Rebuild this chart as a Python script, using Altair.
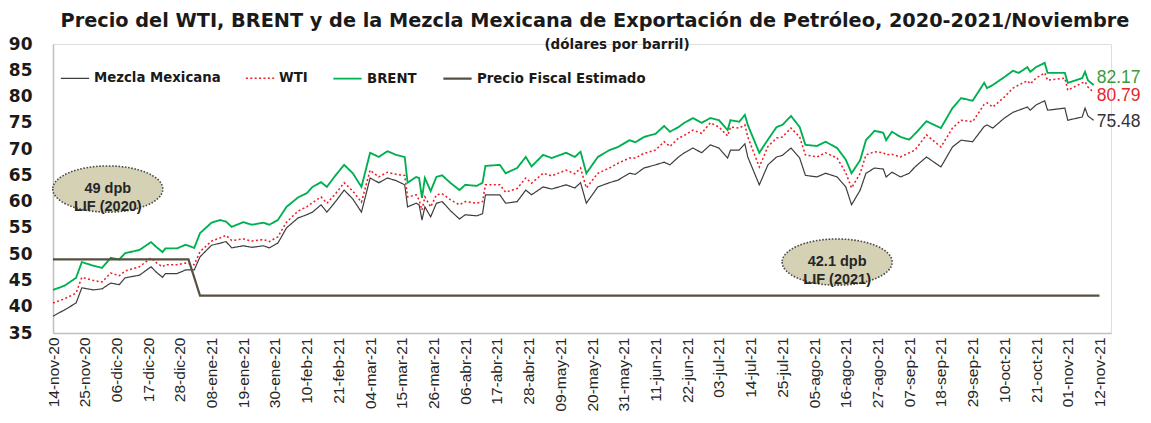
import json
import pandas as pd
import altair as alt

# Etiquetas del eje X (cada 11 días desde el 14-nov-20)
etiquetas = ["14-nov-20", "25-nov-20", "06-dic-20", "17-dic-20", "28-dic-20", "08-ene-21",
             "19-ene-21", "30-ene-21", "10-feb-21", "21-feb-21", "04-mar-21", "15-mar-21",
             "26-mar-21", "06-abr-21", "17-abr-21", "28-abr-21", "09-may-21", "20-may-21",
             "31-may-21", "11-jun-21", "22-jun-21", "03-jul-21", "14-jul-21", "25-jul-21",
             "05-ago-21", "16-ago-21", "27-ago-21", "07-sep-21", "18-sep-21", "29-sep-21",
             "10-oct-21", "21-oct-21", "01-nov-21", "12-nov-21"]

# Días transcurridos desde el 14-nov-2020
dias = [0, 4, 8, 10, 14, 17, 20, 23, 25, 30, 34, 36, 38, 39, 43, 46, 49, 51, 55, 58,
        60, 62, 66, 69, 73, 75, 78, 81, 85, 88, 90, 93, 95, 98, 101, 104, 107, 110, 113, 116,
        119, 122, 123, 126, 127, 128, 129, 131, 133, 135, 138, 141, 143, 147, 149, 150, 155, 157, 161, 164,
        166, 170, 173, 178, 181, 183, 185, 189, 193, 196, 200, 202, 205, 209, 212, 214, 217, 219, 222, 225,
        228, 231, 234, 235, 238, 240, 241, 245, 248, 251, 253, 256, 259, 261, 265, 268, 272, 275, 277, 280,
        282, 285, 288, 289, 291, 294, 297, 299, 303, 308, 312, 315, 319, 323, 324, 326, 330, 333, 335, 338,
        339, 341, 344, 345, 351, 352, 357, 358, 359, 361]

brent = [43.2, 44.0, 45.5, 48.5, 47.8, 47.4, 49.3, 49.0, 50.2, 50.8, 52.3, 51.3, 50.4, 51.1, 51.1, 51.8, 51.2, 54.0, 56.0, 56.5,
         56.2, 55.2, 56.1, 55.6, 56.0, 55.6, 56.5, 59.0, 60.8, 61.6, 62.8, 63.7, 62.8, 65.0, 67.0, 65.4, 62.8, 69.3, 68.5, 69.6,
         68.9, 68.5, 63.6, 64.7, 64.5, 60.7, 64.5, 62.0, 64.7, 65.0, 63.5, 62.2, 63.2, 63.0, 63.6, 66.8, 67.0, 65.4, 66.4, 68.5,
         66.7, 68.9, 68.3, 69.3, 68.5, 69.5, 65.4, 68.5, 69.8, 70.4, 71.7, 71.3, 72.3, 72.9, 74.4, 73.3, 74.2, 75.0, 75.9, 75.0,
         75.9, 75.5, 73.6, 75.5, 75.2, 76.5, 74.6, 69.3, 71.8, 74.2, 74.6, 76.3, 74.2, 70.8, 70.6, 71.4, 70.2, 68.0, 65.4, 67.9,
         71.7, 73.5, 73.1, 71.7, 73.3, 72.3, 71.8, 72.9, 75.3, 74.0, 77.8, 79.7, 79.2, 82.6, 81.6, 82.2, 83.7, 84.9, 84.5, 85.6,
         84.7, 85.6, 86.4, 84.5, 84.5, 82.6, 83.5, 84.7, 83.1, 82.17]

wti = [40.7, 41.5, 42.6, 45.6, 45.0, 44.7, 46.4, 45.9, 46.8, 47.6, 49.3, 48.3, 47.6, 48.0, 48.0, 48.3, 48.0, 50.5, 52.5, 53.1,
       53.6, 52.6, 52.9, 52.5, 52.8, 52.4, 53.3, 56.1, 58.2, 59.0, 59.8, 60.9, 59.7, 61.5, 63.6, 62.0, 59.9, 66.0, 64.7, 65.6,
       65.2, 65.0, 60.9, 61.3, 60.3, 58.4, 60.9, 59.0, 61.3, 61.5, 60.3, 59.4, 60.0, 59.7, 60.0, 63.2, 63.2, 61.8, 62.5, 64.5,
       63.5, 65.4, 64.9, 66.0, 65.3, 66.4, 62.6, 65.4, 66.4, 67.3, 68.3, 68.3, 69.2, 69.8, 71.4, 70.5, 72.1, 72.6, 73.6, 73.0,
       75.0, 74.2, 72.5, 74.2, 74.0, 74.6, 72.3, 66.6, 70.5, 72.1, 72.3, 74.0, 72.3, 68.9, 68.5, 69.3, 68.3, 65.5, 62.6, 65.4,
       68.9, 69.5, 69.3, 68.9, 69.0, 68.5, 69.3, 69.8, 72.7, 70.4, 74.0, 75.5, 75.2, 78.5, 78.8, 78.0, 79.9, 81.6, 82.2, 83.0,
       82.4, 83.5, 84.5, 83.1, 83.5, 81.2, 82.6, 82.8, 81.8, 80.79]

mezcla = [38.2, 39.4, 40.7, 43.6, 43.2, 43.4, 44.5, 44.2, 45.5, 46.0, 47.6, 46.5, 45.6, 46.3, 46.3, 47.0, 47.0, 49.5, 51.7, 52.1,
          52.4, 51.2, 51.6, 51.3, 51.6, 51.2, 52.1, 55.0, 56.9, 57.5, 58.0, 59.4, 58.0, 60.0, 62.2, 60.5, 58.0, 64.5, 63.6, 64.5,
          64.0, 63.2, 59.0, 59.7, 59.4, 56.5, 59.0, 57.1, 59.7, 60.0, 58.2, 56.7, 57.5, 57.3, 57.7, 61.3, 61.3, 59.7, 60.0, 62.2,
          61.3, 62.8, 62.4, 63.2, 62.6, 63.6, 59.7, 62.8, 63.6, 64.1, 65.4, 65.2, 66.4, 67.0, 67.5, 67.0, 68.5, 69.3, 70.2, 69.3,
          70.8, 70.2, 68.3, 69.8, 69.8, 71.0, 68.5, 63.2, 67.0, 68.5, 68.8, 70.2, 68.3, 65.0, 64.7, 65.4, 64.7, 62.8, 59.4, 62.2,
          65.4, 66.4, 66.2, 64.7, 65.6, 64.7, 65.4, 66.6, 68.5, 66.6, 70.4, 71.7, 71.4, 74.3, 74.6, 74.0, 75.9, 77.0, 77.4, 78.0,
          77.4, 78.4, 79.2, 77.4, 77.8, 75.5, 76.1, 77.8, 76.3, 75.48]

# Precio fiscal estimado (LIF 2020 y LIF 2021)
fiscal_dias = [0, 47, 51, 363]
fiscal_valores = [49.0, 49.0, 42.1, 42.1]

series = ["Mezcla Mexicana", "WTI", "BRENT", "Precio Fiscal Estimado"]
colores = ["#3d3d3d", "#ee1c25", "#00b050", "#565040"]
grosores = [1.2, 2.2, 3.4, 2.6]
trazos = [[1, 0], [2, 2.4], [1, 0], [1, 0]]

# Anotaciones (elipses)
anot_dias = [19, 272]
anot_valores = [62.4, 48.5]
anot_textos = ["49 dpb\nLIF (2020)", "42.1 dpb\nLIF (2021)"]

titulo = "Precio del WTI, BRENT y de la Mezcla Mexicana de Exportación de Petróleo, 2020-2021/Noviembre"
subtitulo = "(dólares por barril)"

# ----- tablas -----
filas = []
for nombre, vals in [("Mezcla Mexicana", mezcla), ("WTI", wti), ("BRENT", brent)]:
    for d, v in zip(dias, vals):
        filas.append({"dia": d, "valor": v, "serie": nombre})
for d, v in zip(fiscal_dias, fiscal_valores):
    filas.append({"dia": d, "valor": v, "serie": "Precio Fiscal Estimado"})
df = pd.DataFrame(filas)

finales = pd.DataFrame({
    "dia": [dias[-1]] * 3,
    "valor": [brent[-1], wti[-1], mezcla[-1]],
    "texto": [f"{brent[-1]:.2f}", f"{wti[-1]:.2f}", f"{mezcla[-1]:.2f}"],
})
anot = pd.DataFrame({"dia": anot_dias, "valor": anot_valores, "texto": anot_textos})

tick_vals = [11 * i for i in range(len(etiquetas))]
label_expr = json.dumps(etiquetas) + "[round(datum.value / 11)]"

xscale = alt.Scale(domain=[0, 367], nice=False, zero=False)
yscale = alt.Scale(domain=[35, 90], nice=False, zero=False)

x_axis = alt.Axis(values=tick_vals, labelExpr=label_expr, labelAngle=270,
                  labelFont="Liberation Sans", labelFontSize=15.5, labelColor="#262626",
                  ticks=False, grid=False, domainColor="#bfbfbf", domainWidth=1.5,
                  labelPadding=4, labelOverlap=False, labelFlush=False, labelBound=False)
y_axis = alt.Axis(values=list(range(35, 95, 5)), labelFont="DejaVu Sans",
                  labelFontSize=17, labelFontWeight="bold", labelColor="#1a1a1a",
                  ticks=False, grid=False, domainColor="#bfbfbf", domainWidth=1.5,
                  labelPadding=21, labelOverlap=False, labelFlush=False, labelBound=False)


def xe():
    return alt.X("dia:Q", scale=xscale, title=None, axis=x_axis)


def ye():
    return alt.Y("valor:Q", scale=yscale, title=None, axis=y_axis)


leg = alt.Legend(title=None, orient="none", legendX=7, legendY=19, direction="horizontal",
                 symbolType="stroke", symbolSize=800, labelFont="DejaVu Sans",
                 labelFontSize=13.3, labelFontWeight="bold", labelColor="#1a1a1a",
                 labelOffset=4, columnPadding=21, padding=0, labelLimit=400)

lineas = alt.Chart(df).mark_line().encode(
    x=xe(),
    y=ye(),
    color=alt.Color("serie:N", scale=alt.Scale(domain=series, range=colores), legend=leg),
    strokeDash=alt.StrokeDash("serie:N", scale=alt.Scale(domain=series, range=trazos), legend=leg),
    strokeWidth=alt.StrokeWidth("serie:O", scale=alt.Scale(domain=series, range=grosores), legend=leg),
    order=alt.Order("dia:Q"),
)

elipse_path = "M-1,0A1,0.42,0,1,0,1,0A1,0.42,0,1,0,-1,0Z"
elipses = alt.Chart(anot).mark_point(
    shape=elipse_path, size=12100, filled=False, fill="#d5d1b4", fillOpacity=1,
    stroke="#4a4a4a", strokeWidth=1.6, strokeDash=[1.6, 1.6], opacity=1
).encode(x=xe(), y=ye())

textos_anot = alt.Chart(anot).mark_text(
    font="Liberation Sans", fontSize=14.5, fontWeight="bold", color="#262626",
    lineBreak="\n", lineHeight=18, align="center", baseline="middle"
).encode(x=xe(), y=ye(), text="texto:N")

colores_fin = ["#3c9a3c", "#e8262e", "#333333"]
dys = [-7, 4, 2]
fin_layers = []
for i in range(3):
    fin_layers.append(
        alt.Chart(finales.iloc[[i]]).mark_text(
            font="Liberation Sans", fontSize=17.5, color=colores_fin[i], align="left",
            baseline="middle", dx=3, dy=dys[i]
        ).encode(x=xe(), y=ye(), text="texto:N")
    )

sub = alt.Chart(pd.DataFrame({"t": [subtitulo]})).mark_text(
    font="DejaVu Sans", fontSize=13.5, fontWeight="bold", color="#1a1a1a",
    align="center", baseline="middle"
).encode(text="t:N", x=alt.value(564), y=alt.value(1))

chart = alt.layer(lineas, elipses, textos_anot, *fin_layers, sub).properties(
    width=1058, height=289,
    autosize=alt.AutoSizeParams(type="none"),
    padding={"left": 45, "top": 36, "right": 32, "bottom": 82},
    title=alt.TitleParams(
        text=titulo, anchor="middle", frame="group",
        font="DejaVu Sans", fontSize=19.3, fontWeight="bold", color="#1a1a1a",
        offset=4, dy=0, dx=13,
    ),
).configure_view(stroke=None).configure(background="white")

chart.save("out.html", embed_options={"renderer": "svg", "actions": False})
